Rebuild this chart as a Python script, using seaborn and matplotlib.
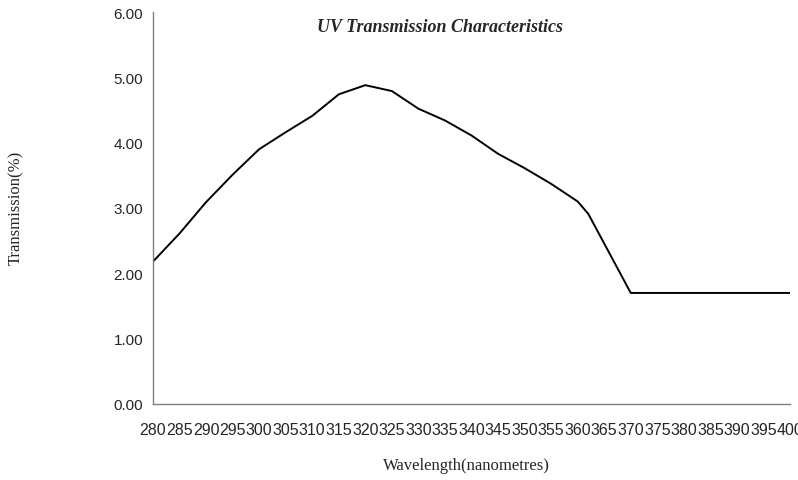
import matplotlib
matplotlib.use("Agg")
import matplotlib.pyplot as plt
import seaborn as sns
import pandas as pd
from matplotlib.ticker import FormatStrFormatter

# values
wavelength = [280, 285, 290, 295, 300, 305, 310, 315, 320, 325, 330, 335, 340,
              345, 350, 355, 360, 362, 370, 375, 380, 385, 390, 395, 400]
transmission = [2.18, 2.61, 3.09, 3.51, 3.90, 4.16, 4.41, 4.74, 4.88, 4.79, 4.52, 4.34, 4.11,
                3.83, 3.61, 3.37, 3.10, 2.91, 1.70, 1.70, 1.70, 1.70, 1.70, 1.70, 1.70]
x_ticks = list(range(280, 401, 5))
y_ticks = [0, 1, 2, 3, 4, 5, 6]

df = pd.DataFrame({'wavelength': wavelength, 'transmission': transmission})

sns.set_style('white')
serif = ['Liberation Serif', 'DejaVu Serif']
sans = ['Liberation Sans', 'DejaVu Sans']

fig = plt.figure(figsize=(7.98, 4.81), dpi=100)
ax = fig.add_axes([153 / 798, 1 - 405 / 481, (790 - 153) / 798, (405 - 13) / 481])

sns.lineplot(data=df, x='wavelength', y='transmission', ax=ax, color='black', linewidth=1.4)

ax.set_xlim(280, 400)
ax.set_ylim(0, 6)
ax.set_xticks(x_ticks)
ax.set_yticks(y_ticks)
ax.yaxis.set_major_formatter(FormatStrFormatter('%.2f'))

for side in ['top', 'right']:
    ax.spines[side].set_visible(False)
for side in ['left', 'bottom']:
    ax.spines[side].set_color('#7f7f7f')
    ax.spines[side].set_linewidth(1.0)

ax.tick_params(axis='both', direction='in', length=4, width=1, color='#7f7f7f')
ax.tick_params(axis='x', pad=13)
ax.tick_params(axis='y', pad=7)
for lbl in ax.get_xticklabels():
    lbl.set_family(sans)
    lbl.set_fontsize(11.5)
for lbl in ax.get_yticklabels():
    lbl.set_family(sans)
    lbl.set_fontsize(11)

ax.set_xlabel('')
ax.set_ylabel('')
fig.text(466 / 798, 1 - 466 / 481, 'Wavelength(nanometres)', family=serif, fontsize=12,
         ha='center', va='center')
fig.text(16 / 798, 1 - 208 / 481, 'Transmission(%)', family=serif, fontsize=12,
         rotation=90, ha='center', va='center')
fig.text(440 / 798, 1 - 28 / 481, 'UV Transmission Characteristics', family=serif,
         fontsize=13, fontweight='bold', fontstyle='italic', ha='center', va='center')

fig.savefig('out.png', dpi=100)
